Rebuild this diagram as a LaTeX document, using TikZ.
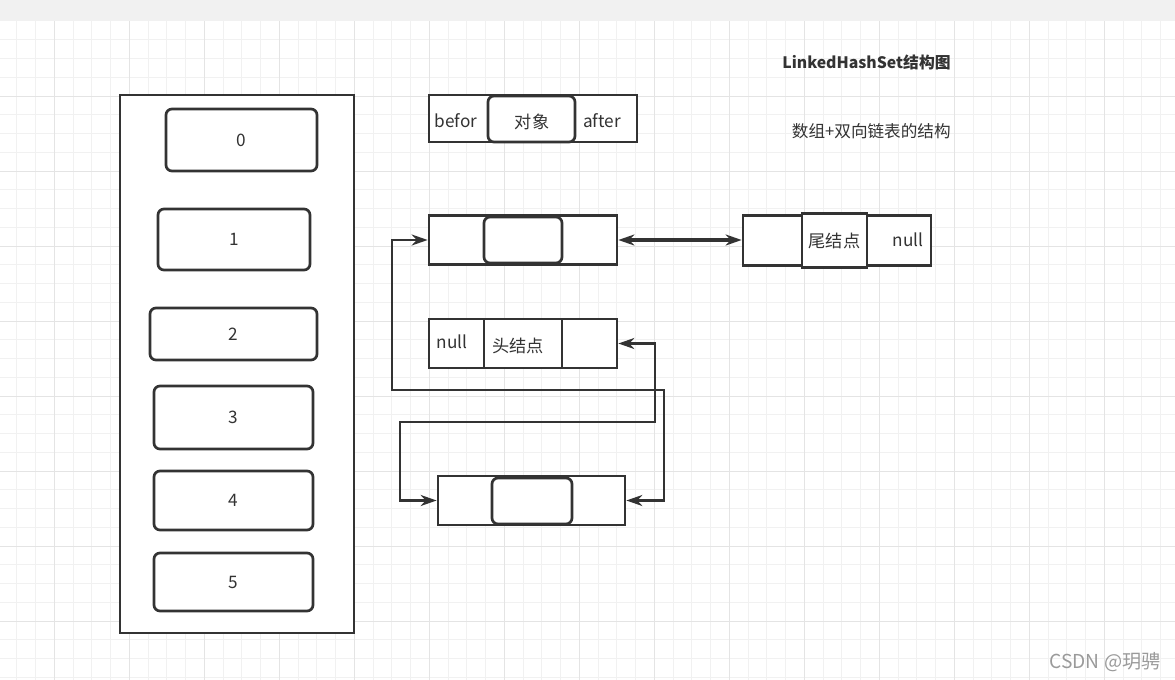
\documentclass[tikz,border=0pt]{standalone}
\usepackage{fontspec}
\setmainfont{Noto Sans CJK SC}
\usetikzlibrary{arrows.meta}
\definecolor{ink}{HTML}{333333}
\definecolor{gridminor}{HTML}{F1F1F1}
\definecolor{gridmajor}{HTML}{E4E4E4}
\definecolor{topbar}{HTML}{F1F1F1}
\definecolor{mark}{HTML}{9A9A9A}

\begin{document}
\begin{tikzpicture}[x=0.5pt, y=-0.5pt,
    box/.style={draw=ink, line width=1.35pt, fill=white, inner sep=0pt, text=ink, font=\fontsize{8.6}{10}\selectfont},
    rbox/.style={box, rounded corners=3pt},
    txt/.style={text=ink, inner sep=0pt, font=\fontsize{8.6}{10}\selectfont},
    link/.style={draw=ink, line width=1.25pt, arrows={Stealth[length=8pt,width=5.5pt]-Stealth[length=8pt,width=5.5pt]}}]
    \useasboundingbox (0,0) rectangle (1175,680);
    \fill[white] (0,0) rectangle (1175,680);
    \fill[topbar] (0,0) rectangle (1175,21);
    \foreach \gx in {16.75,35.5,...,1175} \draw[gridminor, line width=0.5pt] (\gx,21) -- (\gx,680);
    \foreach \gy in {39.75,58.5,...,680} \draw[gridminor, line width=0.5pt] (0,\gy) -- (1175,\gy);
    \foreach \gx in {54.25,129.25,...,1175} \draw[gridmajor, line width=0.5pt] (\gx,21) -- (\gx,680);
    \foreach \gy in {96,171,...,680} \draw[gridmajor, line width=0.5pt] (0,\gy) -- (1175,\gy);

    \node[txt, anchor=east, font=\fontsize{7.9}{9}\selectfont\bfseries] (title) at (951,62) {LinkedHashSet结构图};
    \node[txt, anchor=east, font=\fontsize{8.3}{9}\selectfont] (subtitle) at (951,131) {数组+双向链表的结构};

    \node[box, minimum width=117pt, minimum height=269pt] (array) at (237,364) {};
    \node[rbox, minimum width=75.5pt, minimum height=31pt] (slot0) at (241.5,140) {0};
    \node[rbox, minimum width=76pt, minimum height=30.5pt] (slot1) at (234,239.5) {1};
    \node[rbox, minimum width=83.5pt, minimum height=26pt] (slot2) at (233.5,334) {2};
    \node[rbox, minimum width=79.5pt, minimum height=31.5pt] (slot3) at (233.5,417.5) {3};
    \node[rbox, minimum width=79.5pt, minimum height=29.5pt] (slot4) at (233.5,500.5) {4};
    \node[rbox, minimum width=79.5pt, minimum height=29pt] (slot5) at (233.5,582) {5};

    \node[box, minimum width=104pt, minimum height=23.5pt] (legend) at (533,118.5) {};
    \node[rbox, minimum width=43.5pt, minimum height=23pt] (legendobj) at (531.5,119) {};
    \node[txt] (legendlabel) at (532,121.5) {对象};
    \node[txt] (legendbefor) at (456,121) {befor};
    \node[txt] (legendafter) at (602,121) {after};

    \node[box, minimum width=94pt, minimum height=24.5pt] (first) at (523,240) {};
    \node[rbox, minimum width=39pt, minimum height=23pt] (firstobj) at (523,240) {};

    \node[box, minimum width=29.5pt, minimum height=25pt] (tailprev) at (772.5,240.5) {};
    \node[box, minimum width=32pt, minimum height=25pt] (tailnext) at (899,240.5) {};
    \node[box, minimum width=32.5pt, minimum height=27pt] (tailval) at (834.5,240.5) {尾结点};
    \node[txt] (tailnull) at (908,240) {null};

    \node[box, minimum width=27.5pt, minimum height=24.5pt] (headprev) at (456.5,343.5) {};
    \node[box, minimum width=39pt, minimum height=24.5pt] (headval) at (523,343.5) {};
    \node[box, minimum width=27.5pt, minimum height=24.5pt] (headnext) at (589.5,343.5) {};
    \node[txt] (headnull) at (452,342) {null};
    \node[txt] (headlabel) at (518,346) {头结点};

    \node[box, minimum width=93.5pt, minimum height=24.5pt] (second) at (531.5,500.5) {};
    \node[rbox, minimum width=40pt, minimum height=23pt] (secondobj) at (532,501) {};

    \coordinate (loopa) at (392,390);
    \coordinate (loopb) at (664,390);
    \coordinate (loopc) at (655,422);
    \coordinate (loopd) at (400,422);

    \draw[link, line width=1.9pt] (first.east) -- (first.east -| tailprev.west);
    \draw[link] (first.west) -| (loopa) -- (loopb) |- (second.east);
    \draw[link] (headnext.east) -| (loopc) -- (loopd) |- (second.west);

    \node[anchor=east, inner sep=0pt, text=mark, font=\fontsize{9.6}{11}\selectfont] (watermark) at (1161,662) {CSDN @玥骋};
\end{tikzpicture}
\end{document}
